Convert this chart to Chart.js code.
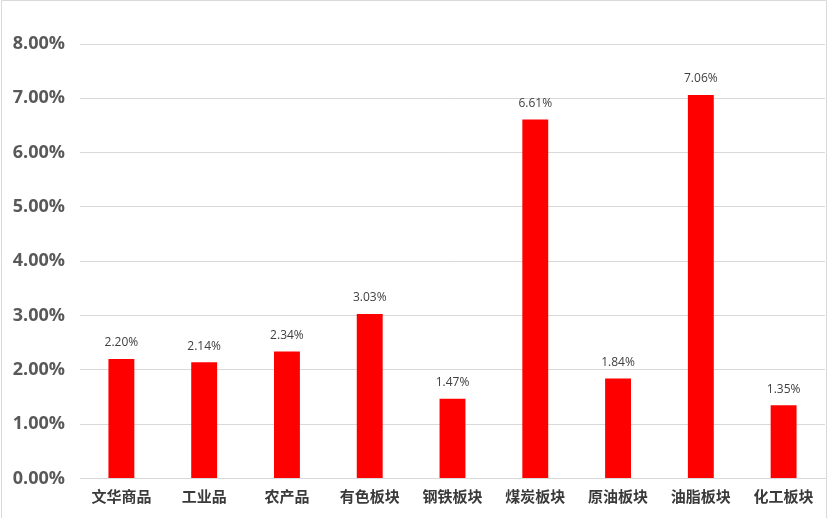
<!DOCTYPE html>
<html>
<head>
<meta charset="utf-8">
<script src="https://cdn.jsdelivr.net/npm/chart.js@4.4.1/dist/chart.umd.min.js"></script>
<style>
  html, body { margin: 0; padding: 0; background: #fff; }
  #wrap { position: relative; width: 828px; height: 518px; }
</style>
</head>
<body>
<div id="wrap"><canvas id="c" width="828" height="518"></canvas></div>
<script>
// Sector returns (%)
const categories = ['文华商品', '工业品', '农产品', '有色板块', '钢铁板块', '煤炭板块', '原油板块', '油脂板块', '化工板块'];
const returns = [2.20, 2.14, 2.34, 3.03, 1.47, 6.61, 1.84, 7.06, 1.35];
const yTicks = [0, 1, 2, 3, 4, 5, 6, 7, 8];

// Value labels above each bar
const valueLabels = {
  id: 'valueLabels',
  afterDatasetsDraw(chart) {
    const ctx = chart.ctx;
    const meta = chart.getDatasetMeta(0);
    ctx.save();
    ctx.font = '12px "Open Sans", "DejaVu Sans", sans-serif';
    ctx.fillStyle = '#404040';
    ctx.textAlign = 'center';
    ctx.textBaseline = 'middle';
    meta.data.forEach((bar, i) => {
      const v = chart.data.datasets[0].data[i];
      ctx.fillText(v.toFixed(2) + '%', bar.x, bar.y - 16);
    });
    ctx.restore();
  }
};

// Light frame around the chart area
const frame = {
  id: 'frame',
  afterDraw(chart) {
    const ctx = chart.ctx;
    ctx.save();
    ctx.strokeStyle = '#d9d9d9';
    ctx.lineWidth = 1;
    ctx.beginPath();
    ctx.moveTo(1.5, 518);
    ctx.lineTo(1.5, 0.5);
    ctx.lineTo(826.5, 0.5);
    ctx.lineTo(826.5, 518);
    ctx.stroke();
    ctx.restore();
  }
};

new Chart(document.getElementById('c'), {
  type: 'bar',
  data: {
    labels: categories,
    datasets: [{
      data: returns,
      backgroundColor: '#ff0000',
      borderWidth: 0,
      barPercentage: 0.313,
      categoryPercentage: 1.0
    }]
  },
  options: {
    responsive: false,
    animation: false,
    devicePixelRatio: 1,
    layout: { padding: { left: 0, right: 3, top: 44, bottom: 0 } },
    plugins: {
      legend: { display: false },
      tooltip: { enabled: false }
    },
    scales: {
      x: {
        grid: { display: false, drawTicks: false },
        border: { display: true, color: '#d9d9d9', width: 1 },
        ticks: {
          color: '#3a3a3a',
          padding: 9,
          maxRotation: 0,
          autoSkip: false,
          font: { family: '"Noto Sans CJK SC", sans-serif', size: 15, weight: 'bold' }
        },
        afterFit(scale) { scale.height = 39.5; }
      },
      y: {
        min: 0,
        max: 8,
        afterBuildTicks(scale) { scale.ticks = yTicks.map(v => ({ value: v })); },
        grid: { color: '#d9d9d9', lineWidth: 1, drawTicks: false },
        border: { display: false },
        ticks: {
          color: '#595959',
          padding: 15,
          font: { family: '"Open Sans", "DejaVu Sans", sans-serif', size: 18, weight: 'bold' },
          callback: v => Number(v).toFixed(2) + '%'
        },
        afterFit(scale) { scale.width = 80; }
      }
    }
  },
  plugins: [valueLabels, frame]
});
</script>
</body>
</html>
